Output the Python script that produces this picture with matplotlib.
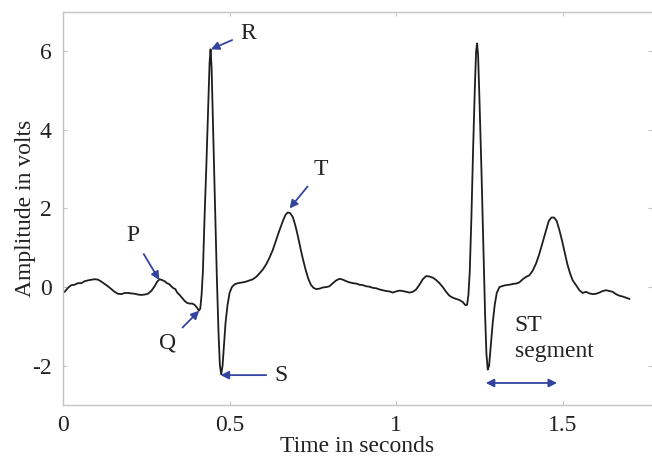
import matplotlib
matplotlib.use("Agg")
import matplotlib.pyplot as plt

# ECG trace (time in s, amplitude in V)
time_s = [
    0.005, 0.015, 0.025, 0.035, 0.045, 0.055, 0.065, 0.080, 0.095, 0.105,
    0.115, 0.125, 0.135, 0.145, 0.155, 0.165, 0.175, 0.185, 0.195, 0.205,
    0.215, 0.225, 0.235, 0.245, 0.255, 0.265, 0.275, 0.283, 0.290, 0.297,
    0.305, 0.312, 0.318, 0.325, 0.330, 0.337, 0.343, 0.350, 0.357, 0.365,
    0.372, 0.380, 0.388, 0.395, 0.402, 0.408, 0.412, 0.416, 0.420, 0.425,
    0.430, 0.436, 0.440, 0.443, 0.446, 0.450, 0.456, 0.462, 0.467, 0.471,
    0.475, 0.479, 0.483, 0.488, 0.494, 0.500, 0.507, 0.515, 0.525, 0.540,
    0.550, 0.560, 0.570, 0.580, 0.590, 0.600, 0.610, 0.620, 0.630, 0.640,
    0.650, 0.660, 0.668, 0.675, 0.682, 0.690, 0.698, 0.705, 0.712, 0.720,
    0.728, 0.736, 0.744, 0.752, 0.760, 0.770, 0.780, 0.790, 0.800, 0.810,
    0.820, 0.830, 0.840, 0.850, 0.860, 0.870, 0.880, 0.890, 0.900, 0.910,
    0.920, 0.930, 0.940, 0.950, 0.960, 0.970, 0.980, 0.990, 1.000, 1.010,
    1.020, 1.030, 1.040, 1.050, 1.060, 1.070, 1.080, 1.090, 1.100, 1.110,
    1.120, 1.130, 1.140, 1.150, 1.160, 1.170, 1.180, 1.190, 1.200, 1.208,
    1.213, 1.217, 1.221, 1.226, 1.231, 1.236, 1.240, 1.243, 1.246, 1.250,
    1.256, 1.262, 1.267, 1.271, 1.275, 1.279, 1.284, 1.290, 1.296, 1.302,
    1.310, 1.320, 1.330, 1.340, 1.350, 1.360, 1.370, 1.380, 1.390, 1.400,
    1.410, 1.420, 1.430, 1.440, 1.450, 1.458, 1.466, 1.474, 1.482, 1.490,
    1.498, 1.506, 1.514, 1.522, 1.530, 1.540, 1.550, 1.560, 1.570, 1.580,
    1.590, 1.600, 1.610, 1.620, 1.630, 1.640, 1.650, 1.660, 1.670, 1.680,
    1.690, 1.700,
]
amplitude_v = [
    -0.12, -0.02, 0.05, 0.06, 0.10, 0.10, 0.15, 0.18, 0.20, 0.19,
    0.14, 0.08, 0.02, -0.05, -0.12, -0.17, -0.18, -0.15, -0.15, -0.16,
    -0.17, -0.19, -0.20, -0.19, -0.17, -0.10, 0.02, 0.14, 0.20, 0.18,
    0.15, 0.10, 0.08, 0.02, -0.02, -0.05, -0.14, -0.20, -0.27, -0.35,
    -0.40, -0.42, -0.42, -0.45, -0.52, -0.60, -0.55, -0.20, 0.40, 1.80,
    3.00, 4.60, 5.70, 6.05, 5.60, 4.20, 2.20, 0.20, -1.20, -2.00,
    -2.22, -2.00, -1.50, -0.90, -0.45, -0.15, 0.00, 0.07, 0.10, 0.12,
    0.14, 0.17, 0.20, 0.26, 0.35, 0.45, 0.58, 0.75, 0.95, 1.20,
    1.45, 1.68, 1.84, 1.90, 1.88, 1.78, 1.55, 1.30, 1.02, 0.72,
    0.45, 0.22, 0.06, -0.02, -0.05, -0.04, -0.01, 0.00, 0.02, 0.10,
    0.17, 0.21, 0.19, 0.15, 0.12, 0.10, 0.09, 0.06, 0.05, 0.02,
    0.01, -0.02, -0.03, -0.06, -0.08, -0.10, -0.11, -0.14, -0.11, -0.09,
    -0.10, -0.12, -0.14, -0.12, -0.06, 0.06, 0.20, 0.28, 0.27, 0.24,
    0.18, 0.10, 0.00, -0.12, -0.22, -0.27, -0.30, -0.33, -0.38, -0.46,
    -0.45, -0.20, 0.40, 1.80, 3.50, 5.00, 6.00, 6.20, 5.90, 4.80,
    3.00, 1.00, -0.70, -1.70, -2.10, -2.00, -1.50, -0.90, -0.45, -0.15,
    0.00, 0.03, 0.05, 0.06, 0.08, 0.09, 0.12, 0.20, 0.26, 0.30,
    0.42, 0.60, 0.85, 1.15, 1.45, 1.68, 1.77, 1.77, 1.68, 1.45,
    1.18, 0.88, 0.58, 0.35, 0.17, 0.05, -0.08, -0.15, -0.12, -0.16,
    -0.18, -0.17, -0.14, -0.10, -0.08, -0.10, -0.12, -0.18, -0.22, -0.24,
    -0.27, -0.30,
]

x_ticks = [0, 0.5, 1, 1.5]
x_tick_labels = ["0", "0.5", "1", "1.5"]
y_ticks = [-2, 0, 2, 4, 6]
y_tick_labels = ["-2", "0", "2", "4", "6"]

# wave labels: (label, point on trace, text position)
wave_labels = ["R", "T", "P", "Q", "S"]
wave_points = [(0.444, 6.05), (0.680, 2.00), (0.289, 0.18), (0.409, -0.60), (0.473, -2.24)]
wave_text_pos = [(0.555, 6.46), (0.775, 2.98), (0.210, 1.30), (0.313, -1.42), (0.655, -2.24)]
st_start, st_end, st_level = 1.269, 1.483, -2.44

plt.rcParams['font.family'] = ['Liberation Serif', 'DejaVu Serif']
blue = '#3343a0'
grey = '#c4c4c4'
fs = 17

fig = plt.figure(figsize=(6.52, 4.57), dpi=100)
ax = fig.add_axes([0.0966, 0.1138, 0.9034, 0.8600])
ax.plot(time_s, amplitude_v, color='#1e1e1e', lw=1.3)

ax.set_xlim(0, 1.768)
ax.set_ylim(-3, 7)
ax.set_xticks(x_ticks)
ax.set_xticklabels(x_tick_labels)
ax.set_yticks(y_ticks)
ax.set_yticklabels(y_tick_labels)
ax.tick_params(direction='in', length=3, width=0.8, color=grey,
               labelsize=fs, pad=8, top=True, right=True, labelcolor='#222222')
ax.tick_params(axis='x', pad=7)
for side in ['left', 'bottom', 'top']:
    ax.spines[side].set_color(grey)
    ax.spines[side].set_linewidth(1.0)
ax.spines['right'].set_visible(False)

ax.set_xlabel("Time in seconds", fontsize=fs, color='#222222', labelpad=0)
ax.set_ylabel("Amplitude in volts", fontsize=fs, color='#222222')
ax.yaxis.set_label_coords(-0.045, 0.5)

for lab, pt, tp in zip(wave_labels, wave_points, wave_text_pos):
    ax.annotate(lab, xy=pt, xytext=tp, fontsize=fs, color='#222222',
                ha='center', va='center',
                arrowprops=dict(arrowstyle='-|>', color=blue, lw=1.3,
                                mutation_scale=12, shrinkA=4, shrinkB=0))

ax.text(1.356, -1.30, "ST\nsegment", fontsize=fs, color='#222222',
        ha='left', va='center', linespacing=1.3)
ax.annotate("", xy=(st_end, st_level), xytext=(st_start, st_level),
            arrowprops=dict(arrowstyle='<|-|>', color=blue, lw=1.3,
                            mutation_scale=12, shrinkA=0, shrinkB=0))

fig.savefig("out.png", dpi=100)
